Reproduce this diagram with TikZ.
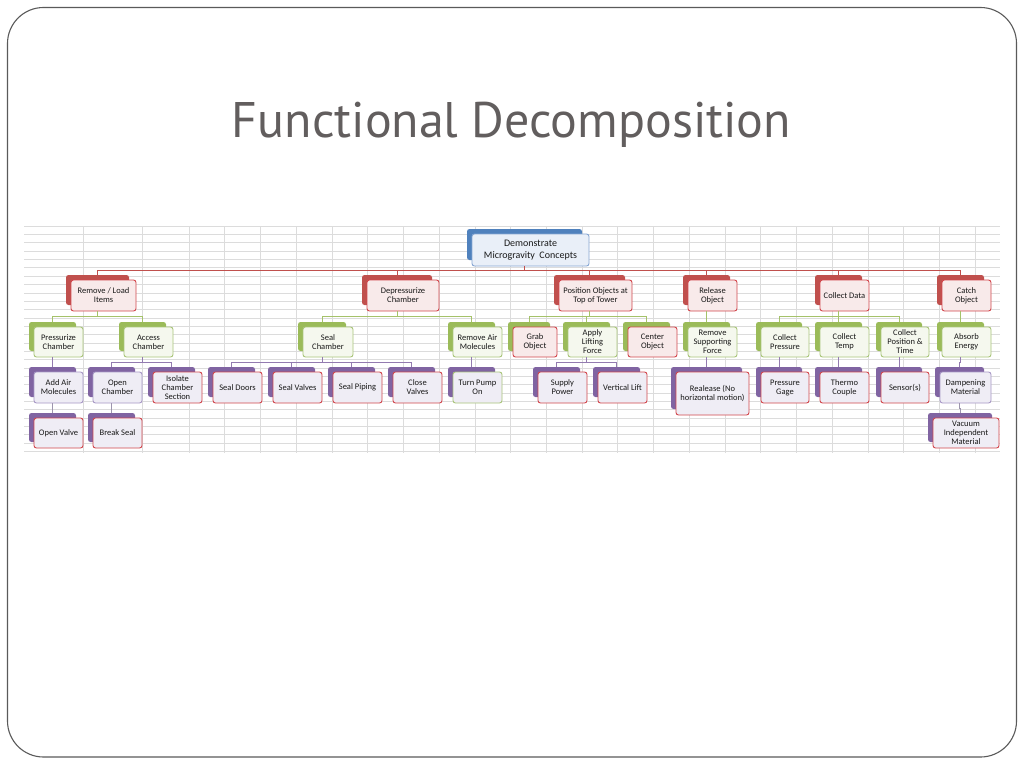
\documentclass[tikz,border=0pt]{standalone}
\usepackage{fontspec}
\setmainfont{Carlito}
\newfontfamily\titlefont{PT Sans}
\definecolor{tRed}{HTML}{C0504D}
\definecolor{tGreen}{HTML}{9BBB59}
\definecolor{tPurple}{HTML}{8064A2}
\definecolor{tBlue}{HTML}{4F81BD}
\definecolor{bRed}{HTML}{D2474D}
\definecolor{bGreen}{HTML}{A9C57A}
\definecolor{bPurple}{HTML}{A898C6}
\definecolor{bBlue}{HTML}{86A6D2}
\definecolor{fRed}{HTML}{F8EAEA}
\definecolor{fGreen}{HTML}{F5F8EE}
\definecolor{fPurple}{HTML}{EFEDF5}
\definecolor{fBlue}{HTML}{E9EFF8}
\definecolor{gridc}{HTML}{DCDCDC}
\definecolor{titlec}{RGB}{98,94,94}
\definecolor{framec}{HTML}{5A5A5A}
\definecolor{lGray}{HTML}{9D95AE}
\tikzset{
  tabbox/.style={rectangle, rounded corners=2.5pt, draw=none, inner sep=0pt},
  frontbox/.style={rectangle, rounded corners=2.5pt, line width=0.9pt, inner sep=0pt,
    align=center, font=\fontsize{8.5}{9}\selectfont, text=black!90},
  rootfont/.style={font=\fontsize{10}{12}\selectfont},
  gridline/.style={draw=gridc, line width=0.6pt},
  lnRed/.style={draw=tRed, line width=0.9pt},
  lnGreen/.style={draw=tGreen!90!white, line width=0.9pt},
  lnPurple/.style={draw=tPurple!85!white, line width=0.9pt},
  lnGray/.style={draw=lGray, line width=0.9pt},
}
% name, cx, cy, w, h, tab colour, border colour, fill colour, text
\newcommand\FB[9]{%
  \node[tabbox, fill=#6, minimum width={#4-2}, minimum height={#5-1}] (#1t) at (#2-6,#3-5.5) {};
  \node[frontbox, draw=#7, fill=#8, minimum width=#4, minimum height=#5] (#1) at (#2,#3) {#9};
}
% style, parent, child, bus
\newcommand\CN[4]{%
  \draw[#1] (#2t.center |- #2.south) |- (#3t.north |- #4) -- (#3t.north);
}
\begin{document}
\begin{tikzpicture}[x=1pt,y=-1pt]
\useasboundingbox (0,0) rectangle (1024,768);
\fill[white] (0,0) rectangle (1024,768);
% slide frame
\draw[framec, line width=1.1pt, rounded corners=36pt] (7.5,7.5) rectangle (1016.5,757);
% title
\node[anchor=base, text=titlec, font=\titlefont\fontsize{50}{60}\selectfont, inner sep=0pt] (title) at (511.5,137) {Functional Decomposition};
% spreadsheet grid
\foreach \k in {0,...,27} \draw[gridline] (24,226+8.35*\k) -- (1000,226+8.35*\k);
\foreach \x in {83,142} \draw[gridline] (\x,226) -- (\x,453);
\foreach \k in {0,...,22} \draw[gridline] (189+35.73*\k,226) -- (189+35.73*\k,453);
% bus levels
\coordinate (b1) at (0,270.5);
\coordinate (b2) at (0,316);
\coordinate (b3) at (0,362);
\coordinate (b4) at (0,408);
% root
\node[tabbox, fill=tBlue, minimum width=115, minimum height=31] (roott) at (524.5,244.5) {};
\node[frontbox, rootfont, draw=bBlue, fill=fBlue, minimum width=117, minimum height=32] (root) at (530.5,250) {Demonstrate\\Microgravity\ \ Concepts};
% level 1
\FB{rli}{103.5}{295.5}{65}{31}{tRed}{bRed}{fRed}{Remove / Load\\Items}
\FB{dep}{403}{295.5}{72}{31}{tRed}{bRed}{fRed}{Depressurize\\Chamber}
\FB{pos}{595.5}{295.5}{73}{31}{tRed}{bRed}{fRed}{Position Objects at\\Top of Tower}
\FB{rel}{712.5}{295.5}{49}{31}{tRed}{bRed}{fRed}{Release\\Object}
\FB{col}{844.5}{295.5}{49}{31}{tRed}{bRed}{fRed}{Collect Data}
\FB{cat}{966.5}{295.5}{49}{31}{tRed}{bRed}{fRed}{Catch\\Object}
% level 2
\FB{prs}{58.5}{342}{49}{30}{tGreen}{bGreen}{fGreen}{Pressurize\\Chamber}
\FB{acc}{148.5}{342}{49}{30}{tGreen}{bGreen}{fGreen}{Access\\Chamber}
\FB{sch}{328}{342}{50}{30}{tGreen}{bGreen}{fGreen}{Seal\\Chamber}
\FB{rma}{477.5}{342}{49}{30}{tGreen}{bGreen}{fGreen}{Remove Air\\Molecules}
\FB{grb}{535}{342}{44}{30}{tGreen}{bRed}{fRed}{Grab\\Object}
\FB{apl}{592.5}{342}{49}{30}{tGreen}{bGreen}{fGreen}{Apply\\Lifting\\Force}
\FB{cen}{652.5}{342}{49}{30}{tGreen}{bRed}{fRed}{Center\\Object}
\FB{rsf}{712.5}{342}{49}{30}{tGreen}{bGreen}{fGreen}{Remove\\Supporting\\Force}
\FB{cpr}{785}{342}{48}{30}{tGreen}{bGreen}{fGreen}{Collect\\Pressure}
\FB{ctp}{844.5}{342}{49}{30}{tGreen}{bGreen}{fGreen}{Collect\\Temp}
\FB{cpt}{905}{342}{48}{30}{tGreen}{bGreen}{fGreen}{Collect\\Position \&\\Time}
\FB{abs}{966.5}{342}{49}{30}{tGreen}{bGreen}{fGreen}{Absorb\\Energy}
% level 3
\FB{aam}{58.5}{387.5}{49}{31}{tPurple}{bPurple}{fPurple}{Add Air\\Molecules}
\FB{opc}{117.5}{387.5}{49}{31}{tPurple}{bPurple}{fPurple}{Open\\Chamber}
\FB{iso}{177.5}{387.5}{49}{31}{tPurple}{bRed}{fPurple}{Isolate\\Chamber\\Section}
\FB{sdr}{237.5}{387.5}{49}{31}{tPurple}{bRed}{fPurple}{Seal Doors}
\FB{svl}{297.5}{387.5}{49}{31}{tPurple}{bRed}{fPurple}{Seal Valves}
\FB{spp}{357.5}{387.5}{49}{31}{tPurple}{bRed}{fPurple}{Seal Piping}
\FB{clv}{417.5}{387.5}{49}{31}{tPurple}{bRed}{fPurple}{Close\\Valves}
\FB{tpo}{477.5}{387.5}{49}{31}{tPurple}{bGreen}{fPurple}{Turn Pump\\On}
\FB{spw}{562.5}{387.5}{49}{31}{tPurple}{bRed}{fPurple}{Supply\\Power}
\FB{vlf}{622.5}{387.5}{49}{31}{tPurple}{bRed}{fPurple}{Vertical Lift}
\FB{rls}{712.5}{393.5}{73}{43}{tPurple}{bRed}{fPurple}{Realease (No\\horizontal motion)}
\FB{pgg}{785}{387.5}{48}{31}{tPurple}{bRed}{fPurple}{Pressure\\Gage}
\FB{thc}{844.5}{387.5}{49}{31}{tPurple}{bRed}{fPurple}{Thermo\\Couple}
\FB{sns}{905}{387.5}{48}{31}{tPurple}{bRed}{fPurple}{Sensor(s)}
\FB{dmp}{965.5}{387.5}{51}{31}{tPurple}{bPurple}{fPurple}{Dampening\\Material}
% level 4
\FB{opv}{58.5}{433}{49}{30}{tPurple}{bRed}{fPurple}{Open Valve}
\FB{brk}{117.5}{433}{49}{30}{tPurple}{bRed}{fPurple}{Break Seal}
\FB{vim}{966}{433}{66}{30}{tPurple}{bRed}{fPurple}{Vacuum\\Independent\\Material}
% connectors root -> level 1
\foreach \c in {rli,dep,pos,rel,col,cat} {\CN{lnRed}{root}{\c}{b1}}
% level 1 -> level 2
\foreach \c in {prs,acc} {\CN{lnGreen}{rli}{\c}{b2}}
\foreach \c in {sch,rma} {\CN{lnGreen}{dep}{\c}{b2}}
\foreach \c in {grb,apl,cen} {\CN{lnGreen}{pos}{\c}{b2}}
\CN{lnGreen}{rel}{rsf}{b2}
\foreach \c in {cpr,ctp,cpt} {\CN{lnGreen}{col}{\c}{b2}}
\CN{lnGreen}{cat}{abs}{b2}
% level 2 -> level 3
\CN{lnPurple}{prs}{aam}{b3}
\foreach \c in {opc,iso} {\CN{lnPurple}{acc}{\c}{b3}}
\foreach \c in {sdr,svl,spp,clv} {\CN{lnPurple}{sch}{\c}{b3}}
\CN{lnPurple}{rma}{tpo}{b3}
\foreach \c in {spw,vlf} {\CN{lnPurple}{apl}{\c}{b3}}
\CN{lnPurple}{rsf}{rls}{b3}
\CN{lnPurple}{cpr}{pgg}{b3}
\CN{lnPurple}{ctp}{thc}{b3}
\CN{lnPurple}{cpt}{sns}{b3}
\CN{lnPurple}{abs}{dmp}{b3}
% level 3 -> level 4
\CN{lnGray}{aam}{opv}{b4}
\CN{lnGray}{opc}{brk}{b4}
\CN{lnGray}{dmp}{vim}{b4}
\end{tikzpicture}
\end{document}
